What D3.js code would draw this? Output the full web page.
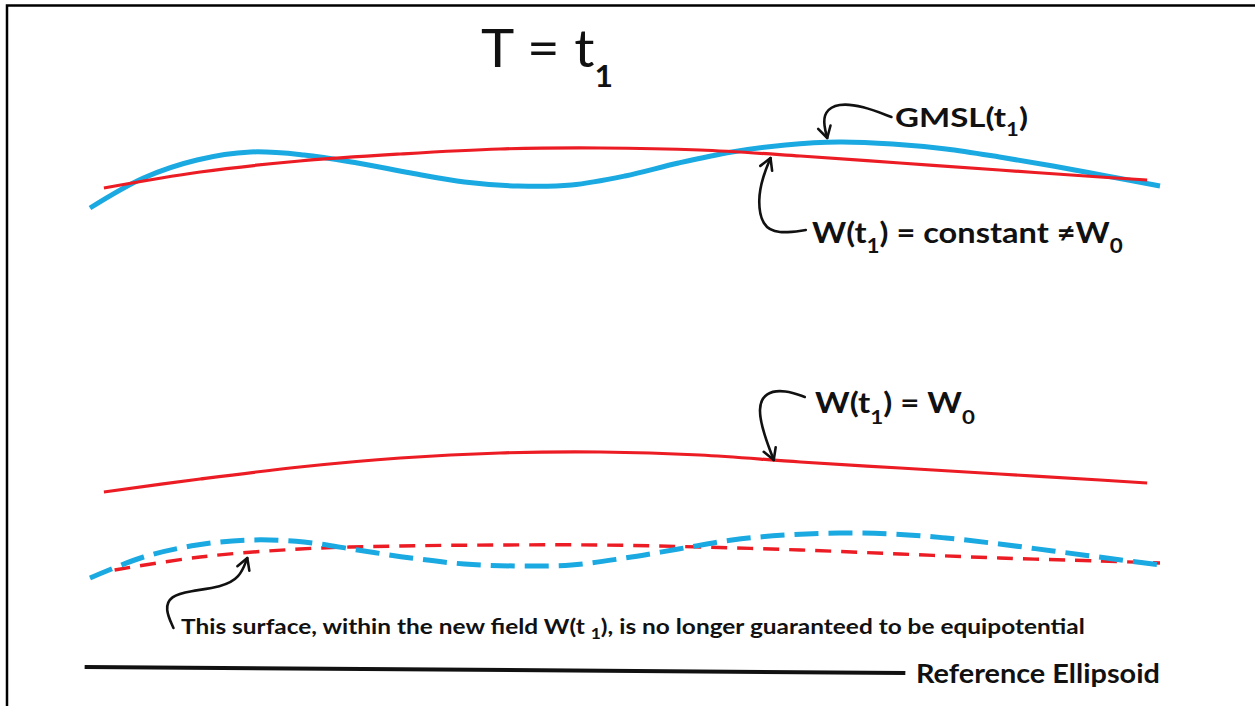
<!DOCTYPE html>
<html>
<head>
<meta charset="utf-8">
<script src="https://cdn.jsdelivr.net/npm/d3@7"></script>
<style>
  html, body { margin: 0; padding: 0; background: #fff; }
  svg { display: block; }
  text { font-family: Lato, "Open Sans", sans-serif; fill: #111; }
</style>
</head>
<body>
<svg width="1255" height="706"></svg>
<script>
// stations along the profile, and heights above the ellipsoid
const stations = [0, 50, 100, 150, 200, 250, 300, 350, 400, 450, 500, 550, 600, 650, 700, 750, 800, 850, 900, 950, 1000];
const gmslNow = [464, 494, 512, 520, 517, 509, 499, 490, 486, 487, 496, 509, 520, 527, 530, 528, 523, 515, 506, 496, 486];
const gmslOld = [94, 115, 127, 132, 130, 122, 114, 108, 106, 107, 114, 123, 132, 137, 139, 138, 134, 128, 121, 114, 107];

const geoidStations = [13, 103, 196, 290, 383, 477, 570, 664, 757, 850, 944, 988];
const geoidConst = [484, 500, 511, 518, 523, 524, 522, 516, 509, 502, 495, 492];
const geoidW0 = [180, 193, 205, 214, 219, 220, 217, 210, 204, 198, 192, 189];

const oldGeoidStations = [23, 103, 196, 290, 383, 477, 570, 664, 757, 850, 944, 1000];
const oldGeoid = [102, 115, 123, 126, 127, 127, 125, 122, 118, 114, 111, 109];

const ellipsoidStations = [-5, 762];
const ellipsoidHeight = [5, -1];

// callout arrows, [station, height]
const arrowGmsl = [[749, 555], [722, 566], [699, 569], [686, 560], [686, 546], [689, 534]];
const arrowConst = [[669, 442], [643, 438], [628, 446], [624, 472], [629, 496], [636, 514]];
const arrowW0 = [[668, 275], [650, 282], [631, 280], [624, 264], [630, 237], [639, 212]];
const arrowOld = [[78, 44], [70, 63], [75, 76], [93, 81], [123, 85], [140, 94], [147, 114]];

// labels: [text, subscript?]
const titleParts = [["T = t", false], ["1", true]];
const gmslParts = [["GMSL(t", false], ["1", true], [")", false]];
const constParts = [["W(t", false], ["1", true], [") = constant \u2260W", false], ["0", true]];
const w0Parts = [["W(t", false], ["1", true], [") = W", false], ["0", true]];
const oldParts = [["This surface, within the new field W(t ", false], ["1", true], ["), is no longer guaranteed to be equipotential", false]];
const ellipsoidParts = [["Reference Ellipsoid", false]];

const blue = "#1aa9e1";
const red = "#ec1c24";

const svg = d3.select("svg");

const x = d3.scaleLinear().domain([0, 1000]).range([90, 1160]);
const y = d3.scaleLinear().domain([0, 530]).range([672, 142]);

// frame
svg.append("path")
  .attr("d", "M7,706 L7,5.5 L1255,5.5")
  .attr("fill", "none")
  .attr("stroke", "#000")
  .attr("stroke-width", 2.5);

const defs = svg.append("defs");
defs.append("marker")
  .attr("id", "head")
  .attr("viewBox", "0 0 10 10")
  .attr("refX", 8.5)
  .attr("refY", 5)
  .attr("markerWidth", 16)
  .attr("markerHeight", 16)
  .attr("markerUnits", "userSpaceOnUse")
  .attr("orient", "auto")
  .append("path")
  .attr("d", "M1.5,1 L8.5,5 L1.5,9")
  .attr("fill", "none")
  .attr("stroke", "#111")
  .attr("stroke-width", 1.6)
  .attr("stroke-linejoin", "round")
  .attr("stroke-linecap", "round");

const line = d3.line()
  .x(d => x(d[0]))
  .y(d => y(d[1]))
  .curve(d3.curveCatmullRom);

const zip = (a, b) => a.map((v, i) => [v, b[i]]);

function surface(st, h, color, width, dash) {
  svg.append("path")
    .attr("d", line(zip(st, h)))
    .attr("fill", "none")
    .attr("stroke", color)
    .attr("stroke-width", width)
    .attr("stroke-dasharray", dash)
    .attr("stroke-linecap", "butt");
}

// upper pair: new sea level and new equipotential
surface(stations, gmslNow, blue, 5, null);
surface(geoidStations, geoidConst, red, 3.2, null);

// W(t1) = W0
surface(geoidStations, geoidW0, red, 3.2, null);

// old surfaces, dashed
surface(oldGeoidStations, oldGeoid, red, 3.4, "16,10");
surface(stations, gmslOld, blue, 5, "24,10");

// reference ellipsoid
svg.append("path")
  .attr("d", d3.line().x(d => x(d[0])).y(d => y(d[1]))(zip(ellipsoidStations, ellipsoidHeight)))
  .attr("stroke", "#111")
  .attr("stroke-width", 4);

const arrowLine = d3.line()
  .x(d => x(d[0]))
  .y(d => y(d[1]))
  .curve(d3.curveBasis);

[arrowGmsl, arrowConst, arrowW0, arrowOld].forEach(a => {
  svg.append("path")
    .attr("d", arrowLine(a))
    .attr("fill", "none")
    .attr("stroke", "#111")
    .attr("stroke-width", 2.6)
    .attr("stroke-linecap", "round")
    .attr("marker-end", "url(#head)");
});

// text with subscripts, squeezed horizontally to the width in the picture
function label(parts, x0, base, size, subSize, shift, width, weight, subWeight) {
  const t = svg.append("text")
    .attr("font-size", size)
    .attr("font-weight", weight);
  let down = false;
  parts.forEach(([s, sub]) => {
    const ts = t.append("tspan").text(s);
    if (sub) {
      ts.attr("font-size", subSize).attr("font-weight", subWeight).attr("dy", shift);
      down = true;
    } else if (down) {
      ts.attr("dy", -shift);
      down = false;
    }
  });
  const len = t.node().getComputedTextLength();
  t.attr("transform", `translate(${x0},${base}) scale(${width / len},1)`);
}

label(titleParts, 481, 67, 53, 30, 20, 132, "normal", "bold");
label(gmslParts, 895, 127, 27, 18, 9, 133, "bold", "bold");
label(constParts, 812, 243, 29, 20, 10, 311, "bold", "bold");
label(w0Parts, 815, 413, 28, 19, 11, 160, "bold", "bold");
label(oldParts, 181, 634, 21, 15, 5, 904, "bold", "bold");
label(ellipsoidParts, 916, 683, 26, 26, 0, 244, "bold", "bold");
</script>
</body>
</html>
